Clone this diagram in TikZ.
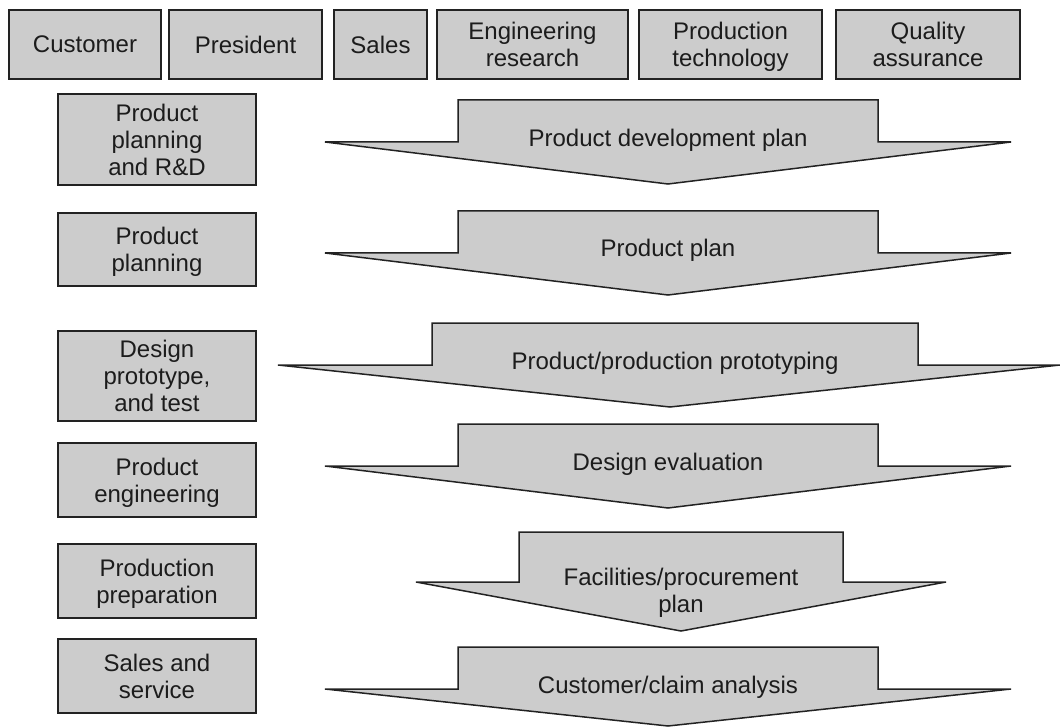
\documentclass[tikz,border=0pt]{standalone}
\usepackage{fontspec}
\setmainfont{Liberation Sans}
\definecolor{boxfill}{HTML}{CCCCCC}
\definecolor{linec}{HTML}{222222}
\definecolor{textc}{HTML}{1C1C1C}
\newcommand\nodepth[1]{\raisebox{0pt}[\height][0pt]{#1}}
\begin{document}
\begin{tikzpicture}[x=1pt,y=-1pt,
  box/.style={draw=linec, fill=boxfill, line width=1.5pt, inner sep=0pt, align=center,
    text=textc, font=\fontsize{24}{27}\selectfont},
  flow/.style={draw=linec, fill=boxfill, line width=1.5pt, line join=miter},
  lbl/.style={text=textc, inner sep=0pt, align=center, font=\fontsize{24}{27}\selectfont}]
\useasboundingbox (0,0) rectangle (1060,727);
% top row
\node[box, minimum width=152pt, minimum height=69pt] (cust) at (85,44.5) {Customer};
\node[box, minimum width=153pt, minimum height=69pt] (pres) at (245.5,44.5) {President};
\node[box, minimum width=93pt, minimum height=69pt] (sales) at (380.5,44.5) {Sales};
\node[box, minimum width=191pt, minimum height=69pt] (eng) at (532.5,44.5) {Engineering\\\nodepth{research}};
\node[box, minimum width=183pt, minimum height=69pt] (ptech) at (730.5,44.5) {Production\\\nodepth{technology}};
\node[box, minimum width=184pt, minimum height=69pt] (qa) at (928,44.5) {Quality\\\nodepth{assurance}};
% left column
\node[box, minimum width=198pt, minimum height=91pt] (b1) at (157,139.5) {Product\\planning\\\nodepth{and R\&D}};
\node[box, minimum width=198pt, minimum height=73pt] (b2) at (157,249.5) {Product\\\nodepth{planning}};
\node[box, minimum width=198pt, minimum height=90pt] (b3) at (157,376) {Design\\prototype,\\\nodepth{and test}};
\node[box, minimum width=198pt, minimum height=74pt] (b4) at (157,480) {Product\\\nodepth{engineering}};
\node[box, minimum width=198pt, minimum height=74pt] (b5) at (157,581) {Production\\\nodepth{preparation}};
\node[box, minimum width=198pt, minimum height=74pt] (b6) at (157,676) {Sales and\\\nodepth{service}};
% flow arrows
\draw[flow] (325,142) -- (458,142) -- (458,100) -- (878,100) -- (878,142) -- (1011,142) -- (668,184) -- cycle;
\node[lbl, anchor=base] (a1) at (668,147) {Product development plan};
\draw[flow] (325,253) -- (458,253) -- (458,211) -- (878,211) -- (878,253) -- (1011,253) -- (668,295) -- cycle;
\node[lbl, anchor=base] (a2) at (668,257) {Product plan};
\draw[flow] (278,365) -- (432,365) -- (432,323) -- (918,323) -- (918,365) -- (1060,365) -- (670,407) -- cycle;
\node[lbl, anchor=base] (a3) at (675,369) {Product/production prototyping};
\draw[flow] (325,466) -- (458,466) -- (458,424) -- (878,424) -- (878,466) -- (1011,466) -- (668,508) -- cycle;
\node[lbl, anchor=base] (a4) at (668,470) {Design evaluation};
\draw[flow] (416,582) -- (519,582) -- (519,532) -- (843,532) -- (843,582) -- (946,582) -- (681,631) -- cycle;
\node[lbl] (a5) at (681,590) {Facilities/procurement\\\nodepth{plan}};
\draw[flow] (325,689) -- (458,689) -- (458,647) -- (878,647) -- (878,689) -- (1011,689) -- (668,726) -- cycle;
\node[lbl, anchor=base] (a6) at (668,693) {Customer/claim analysis};
\end{tikzpicture}
\end{document}
